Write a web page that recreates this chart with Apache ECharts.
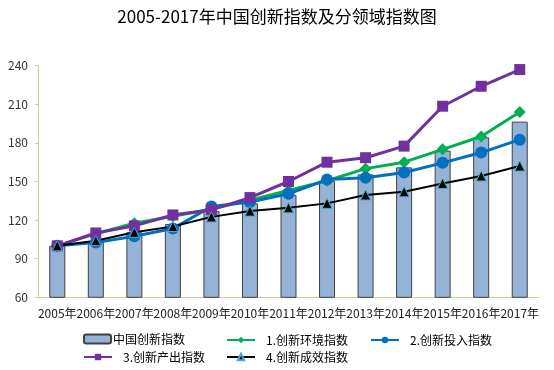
<!DOCTYPE html>
<html>
<head>
<meta charset="utf-8">
<script src="https://cdn.jsdelivr.net/npm/echarts@6/dist/echarts.min.js"></script>
<style>html,body{margin:0;padding:0;background:#fff;}#c{width:554px;height:370px;}</style>
</head>
<body>
<div id="c"></div>
<script>
const years = ['2005年','2006年','2007年','2008年','2009年','2010年','2011年','2012年','2013年','2014年','2015年','2016年','2017年'];
const chinaIndex = [100, 103.7, 110.5, 117, 127, 133, 139.6, 150.5, 155.5, 161, 174, 184.3, 196.5];
const envIndex = [100, 109.5, 117.5, 123, 128.5, 135.5, 143, 150.6, 160, 165, 175, 185, 204];
const inputIndex = [100, 102.5, 107.5, 113.5, 130.5, 134, 140.5, 151.5, 153, 157, 164.5, 172.5, 182.5];
const outputIndex = [100, 110, 115.5, 124, 128, 137.5, 150, 165, 168.5, 177.5, 208.5, 224, 237];
const outcomeIndex = [100, 104, 110.5, 115, 122.5, 127, 129.6, 133, 139.5, 142, 148.5, 154.3, 162];
const yTicks = [60, 90, 120, 150, 180, 210, 240];
const names = ['中国创新指数','1.创新环境指数','2.创新投入指数','3.创新产出指数','4.创新成效指数'];

const font = '"Noto Sans CJK SC", "Noto Sans", sans-serif';
const chart = echarts.init(document.getElementById('c'), null, {renderer: 'canvas'});
function lg(name, left, top, w, h, pad) {
  return {
    data: [name], left: left, top: top, itemWidth: w, itemHeight: h,
    padding: 0, itemGap: 0,
    textStyle: {fontFamily: font, fontSize: 12, color: '#000', padding: [0, 0, 0, pad]}
  };
}
chart.setOption({
  animation: false,
  backgroundColor: '#fff',
  title: {
    text: '2005-2017年中国创新指数及分领域指数图',
    left: 'center', top: 3,
    textStyle: {fontFamily: font, fontSize: 17, fontWeight: 'normal', color: '#000'}
  },
  legend: [
    lg(names[0], 83, 333, 27, 9, -3),
    lg(names[1], 226, 334, 28, 8, 6),
    lg(names[2], 370, 334, 28, 8, 6),
    lg(names[3], 83, 351, 28, 8, 6),
    lg(names[4], 226, 351, 28, 8, 6)
  ],
  grid: {left: 38, right: 15, top: 65.7, bottom: 72.7, containLabel: false},
  xAxis: {
    type: 'category', data: years,
    axisLine: {lineStyle: {color: '#c3d69b', width: 1}},
    axisTick: {show: false},
    axisLabel: {interval: 0, fontFamily: font, fontSize: 12, color: '#222', margin: 10}
  },
  yAxis: {
    type: 'value', min: yTicks[0], max: yTicks[yTicks.length - 1], interval: 30,
    axisLine: {show: true, lineStyle: {color: '#c3d69b', width: 1}},
    axisTick: {show: true, length: 3, lineStyle: {color: '#c3d69b'}},
    splitLine: {show: false},
    axisLabel: {fontFamily: font, fontSize: 12, color: '#333', margin: 10}
  },
  series: [
    {
      name: names[0], type: 'bar', data: chinaIndex, barWidth: 16,
      itemStyle: {color: '#95b3d7', borderColor: '#404040', borderWidth: 1}
    },
    {
      name: names[1], type: 'line', data: envIndex,
      symbol: 'diamond', symbolSize: 12,
      lineStyle: {color: '#00b050', width: 3},
      itemStyle: {color: '#00b050'}
    },
    {
      name: names[2], type: 'line', data: inputIndex,
      symbol: 'circle', symbolSize: 12,
      lineStyle: {color: '#0070c0', width: 3},
      itemStyle: {color: '#0070c0'}
    },
    {
      name: names[3], type: 'line', data: outputIndex,
      symbol: 'rect', symbolSize: 11,
      lineStyle: {color: '#7030a0', width: 3},
      itemStyle: {color: '#7030a0'}
    },
    {
      name: names[4], type: 'line', data: outcomeIndex,
      symbol: 'triangle', symbolSize: 10,
      lineStyle: {color: '#000', width: 2},
      itemStyle: {color: '#000', borderColor: '#4bacc6', borderWidth: 1}
    }
  ]
});
</script>
</body>
</html>
